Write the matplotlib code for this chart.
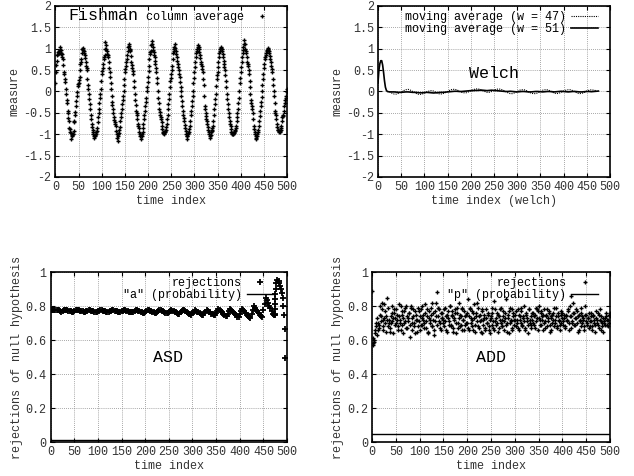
import numpy as np
import matplotlib
matplotlib.use("Agg")
import matplotlib.pyplot as plt
from matplotlib.ticker import MultipleLocator, FormatStrFormatter

plt.rcParams['font.family'] = ['Liberation Mono', 'DejaVu Sans Mono']
plt.rcParams['font.size'] = 8.5
plt.rcParams['axes.unicode_minus'] = False

# ---------------- data ----------------
# Fishman column average, even x = 0, 2, ..., 500 (values in hundredths)
fishman_even_pct = [
    20, 62, 85, 92, 90, 103, 90, 88, 75, 40, 30, 5, -20, -45, -62, -85, -95, -112, -105, -100, -70, -55, -35, -10, 18,
    20, 35, 65, 75, 100, 98, 90, 78, 60, 50, 15, -5, -30, -55, -75, -90, -100, -108, -102, -95, -85, -60, -40, -15, 5,
    40, 55, 75, 85, 115, 100, 88, 80, 55, 35, 5, -25, -40, -60, -72, -80, -100, -115, -100, -90, -70, -50, -30, -10, 15,
    45, 60, 75, 95, 112, 100, 95, 70, 55, 40, 10, -20, -45, -55, -75, -85, -100, -110, -105, -95, -75, -55, -35, -15, 10,
    35, 60, 88, 95, 118, 105, 92, 80, 65, 45, 20, -15, -40, -55, -65, -80, -95, -100, -95, -90, -75, -55, -30, -5, 25,
    40, 60, 90, 100, 110, 95, 80, 65, 50, 35, 10, -10, -35, -55, -70, -85, -100, -110, -100, -95, -80, -55, -35, -10, 20,
    45, 70, 90, 100, 108, 100, 85, 70, 60, 45, 15, -35, -50, -65, -75, -90, -100, -108, -95, -90, -80, -55, -30, -5, 30,
    45, 70, 90, 100, 105, 95, 80, 65, 50, 25, -5, -30, -50, -70, -80, -95, -100, -100, -95, -90, -80, -60, -40, -15, 20,
    45, 70, 90, 105, 120, 100, 90, 70, 60, 40, 10, -20, -35, -50, -80, -95, -105, -110, -100, -90, -70, -45, -25, 0, 30,
    55, 75, 85, 95, 102, 98, 90, 75, 60, 45, 15, -10, -45, -55, -75, -90, -92, -95, -90, -80, -60, -55, -35, -20, -10,
    5,
]
# Fishman column average, odd x = 1, 3, ..., 499
fishman_odd_pct = [
    45, 72, 88, 95, 98, 96, 88, 80, 62, 45, 22, -5, -28, -50, -70, -88, -97, -102, -100, -92, -72, -48, -22, -2, 12,
    28, 50, 70, 90, 101, 95, 85, 70, 55, 30, 5, -18, -42, -65, -82, -95, -104, -105, -100, -92, -72, -50, -28, -5, 25,
    48, 65, 80, 100, 108, 95, 85, 68, 45, 20, -10, -32, -50, -66, -76, -92, -108, -105, -98, -82, -60, -40, -20, 0, 30,
    52, 68, 85, 103, 106, 98, 82, 62, 48, 25, -5, -32, -50, -65, -80, -95, -105, -102, -100, -85, -65, -45, -25, 0, 22,
    48, 75, 92, 108, 112, 98, 86, 72, 55, 32, 2, -28, -48, -60, -72, -88, -98, -98, -92, -82, -65, -42, -18, 10, 32,
    50, 75, 95, 105, 102, 88, 72, 58, 42, 22, 0, -22, -45, -62, -78, -92, -105, -105, -98, -88, -68, -45, -22, 0, 32,
    58, 80, 95, 104, 104, 92, 78, 65, 52, 30, -10, -42, -58, -70, -82, -95, -104, -102, -92, -85, -68, -42, -18, 12, 38,
    58, 80, 95, 102, 100, 88, 72, 58, 38, 10, -18, -40, -60, -75, -88, -98, -100, -98, -92, -85, -70, -50, -28, 0, 32,
    58, 80, 98, 112, 110, 95, 80, 65, 50, 25, -5, -28, -42, -65, -88, -100, -108, -105, -95, -80, -58, -35, -12, 15, 42,
    65, 80, 90, 98, 100, 94, 82, 68, 52, 30, 2, -28, -50, -65, -82, -91, -94, -92, -85, -70, -58, -45, -28, -15, -2,
]
fishman_x = np.concatenate([np.arange(0, 501, 2), np.arange(1, 500, 2)])
fishman_y = np.concatenate([fishman_even_pct, fishman_odd_pct]) / 100.0

# Welch moving averages
welch51_head_x = [0, 2, 4, 6, 8, 10, 12, 14, 16, 18, 20]
welch51_head_y = [0.20, 0.50, 0.65, 0.72, 0.72, 0.62, 0.45, 0.25, 0.10, 0.03, 0.0]
welch51_tail_y = [
    -0.01, -0.01, -0.01, -0.015, -0.02, -0.02, -0.015, -0.01, -0.01, -0.015,
    -0.02, -0.02, -0.025, -0.03, -0.03, -0.025, -0.02, -0.025, -0.03, -0.035,
    -0.03, -0.025, -0.02, -0.02, -0.015, -0.01, -0.005, 0.0, 0.005, 0.005,
    0.0, 0.0, 0.005, 0.01, 0.015, 0.02, 0.02, 0.025, 0.025, 0.03,
    0.03, 0.025, 0.02, 0.025, 0.03, 0.025, 0.02, 0.015, 0.01, 0.005,
    0.0, 0.0, 0.005, 0.0, -0.005, -0.01, -0.005, 0.0, 0.0, -0.005,
    -0.01, -0.01, -0.005, 0.0, 0.0, -0.005, -0.01, -0.005, 0.0, 0.0,
    -0.005, -0.01, -0.005, 0.0, 0.005, 0.0, -0.005, -0.01, -0.005, 0.0,
    0.0, -0.005, -0.01, -0.01, -0.005, 0.0, 0.0, -0.005, 0.0, 0.005,
    0.01,
]
welch51_x = np.concatenate([welch51_head_x, np.arange(25, 476, 5)])
welch51_y = np.concatenate([welch51_head_y, welch51_tail_y])

welch47_y = [
    0.0, -0.04, -0.06, -0.06, -0.04, -0.01, 0.02, 0.04, 0.05, 0.03,
    0.0, -0.03, -0.06, -0.07, -0.06, -0.04, -0.01, 0.01, 0.02, 0.01,
    -0.02, -0.05, -0.06, -0.05, -0.03, 0.0, 0.03, 0.05, 0.05, 0.04,
    0.01, -0.02, -0.03, -0.03, -0.01, 0.02, 0.04, 0.06, 0.06, 0.05,
    0.02, 0.0, -0.02, -0.02, 0.0, 0.03, 0.05, 0.06, 0.05, 0.03,
    0.0, -0.03, -0.05, -0.05, -0.03, 0.0, 0.03, 0.04, 0.04, 0.02,
    -0.01, -0.04, -0.05, -0.05, -0.03, 0.0, 0.03, 0.04, 0.04, 0.02,
    -0.01, -0.04, -0.05, -0.04, -0.02, 0.01, 0.03, 0.04, 0.04, 0.02,
    -0.01, -0.04, -0.05, -0.04, -0.02, 0.01, 0.03, 0.04, 0.03, 0.02,
]
welch47_x = np.arange(25, 471, 5)

# ASD rejections (thousandths), x = 0, 2.5, ..., 475
asd_milli = [
    775, 777, 779, 778, 777, 776, 775, 774, 773,
    766, 770, 774, 778, 776, 774, 772, 770, 768, 767,
    766, 770, 774, 778, 776, 774, 772, 770, 768, 766,
    765, 769, 773, 777, 775, 773, 771, 769, 767, 765,
    764, 768, 773, 777, 775, 773, 771, 769, 767, 765,
    764, 768, 773, 777, 775, 773, 771, 768, 766, 764,
    763, 768, 772, 777, 775, 772, 770, 767, 765, 763,
    762, 767, 773, 778, 775, 772, 769, 766, 763, 761,
    760, 766, 772, 778, 775, 772, 769, 766, 763, 761,
    760, 766, 772, 778, 775, 771, 768, 764, 761, 758,
    757, 763, 770, 776, 773, 770, 766, 762, 759, 756,
    755, 763, 770, 778, 774, 769, 765, 760, 756, 752,
    750, 758, 767, 775, 771, 767, 763, 758, 754, 750,
    748, 758, 767, 777, 772, 767, 762, 756, 751, 747,
    745, 757, 768, 780, 774, 768, 762, 755, 749, 744,
    742, 755, 769, 782, 774, 767, 760, 752, 745, 738,
    735, 752, 768, 785, 777, 768, 759, 750, 741, 734,
    732, 755, 777, 800, 789, 779, 768, 758, 748, 740,
    738, 775, 812, 850, 834, 818, 802, 786, 770, 756,
    750, 752,
]
asd_x_main = np.arange(0, 476, 2.5)
asd_tail_x = [474, 474, 474.5, 475, 475.5, 476, 477, 479, 482, 484, 486, 488, 490, 491.5, 492.5, 493.5, 495, 496]
asd_tail_y = [0.75, 0.78, 0.81, 0.84, 0.87, 0.90, 0.935, 0.955, 0.945, 0.935, 0.92, 0.90, 0.875, 0.85, 0.80, 0.745, 0.667, 0.495]
asd_x = np.concatenate([asd_x_main, asd_tail_x])
asd_y = np.concatenate([np.array(asd_milli) / 1000.0, asd_tail_y])
asd_alpha = 0.01

# ADD rejections (hundredths), even x = 0..500 and odd x = 1..499
add_even_pct = [
    89, 58, 60, 66, 68, 63, 70, 67, 80, 74, 78, 72, 66, 81, 70, 74, 85, 68, 72, 65, 70, 76, 73, 78, 69,
    78, 72, 66, 74, 70, 80, 69, 75, 64, 77, 71, 80, 67, 73, 76, 62, 79, 70, 74, 68, 77, 72, 65, 79, 71,
    66, 78, 73, 69, 75, 70, 81, 67, 74, 64, 77, 72, 79, 68, 76, 63, 71, 82, 88, 74, 78, 70, 66, 73, 76,
    72, 68, 79, 74, 65, 77, 71, 80, 69, 75, 67, 73, 78, 64, 76, 70, 82, 68, 74, 79, 66, 72, 77, 69, 75,
    70, 84, 66, 78, 73, 68, 76, 81, 65, 74, 71, 79, 67, 75, 72, 64, 77, 69, 73, 66, 78, 70, 75, 68, 64,
    73, 79, 67, 83, 71, 69, 76, 65, 74, 78, 70, 72, 68, 77, 66, 73, 84, 70, 75, 64, 79, 71, 67, 76, 72,
    75, 68, 72, 78, 66, 74, 70, 77, 69, 73, 80, 67, 75, 71, 64, 78, 72, 69, 76, 70, 74, 67, 79, 73, 77,
    80, 72, 76, 69, 74, 66, 78, 71, 75, 68, 73, 77, 65, 74, 70, 76, 68, 72, 79, 67, 74, 71, 66, 75, 70,
    76, 69, 73, 67, 75, 71, 78, 66, 74, 86, 70, 82, 76, 69, 73, 77, 65, 75, 71, 79, 68, 74, 72, 66, 80,
    75, 69, 73, 67, 71, 76, 68, 74, 70, 65, 77, 72, 69, 75, 78, 66, 71, 68, 73, 70, 69, 74, 72, 68, 75,
    76,
]
add_odd_pct = [
    57, 61, 59, 64, 70, 73, 66, 69, 75, 71, 82, 68, 73, 77, 65, 72, 79, 70, 67, 74, 80, 71, 64, 76, 73,
    70, 75, 68, 81, 72, 66, 77, 73, 70, 79, 67, 74, 71, 76, 69, 80, 66, 73, 78, 70, 64, 75, 72, 68, 77,
    74, 69, 80, 72, 67, 76, 71, 78, 65, 73, 70, 75, 68, 82, 72, 66, 77, 74, 69, 79, 71, 67, 76, 73, 70,
    78, 71, 66, 75, 73, 69, 80, 68, 74, 77, 65, 72, 76, 70, 79, 67, 73, 75, 69, 78, 72, 66, 74, 70, 76,
    67, 74, 79, 70, 72, 77, 66, 73, 69, 76, 82, 68, 74, 71, 65, 78, 72, 75, 67, 73, 70, 76, 66, 72, 74,
    69, 76, 71, 66, 78, 73, 70, 75, 67, 72, 79, 68, 74, 71, 76, 69, 65, 73, 77, 70, 72, 66, 78, 74, 69,
    72, 77, 70, 67, 75, 72, 79, 68, 74, 71, 66, 76, 73, 69, 78, 70, 74, 67, 72, 76, 69, 75, 71, 78, 66,
    73, 69, 77, 72, 75, 70, 67, 74, 78, 71, 76, 69, 73, 66, 75, 72, 79, 70, 74, 68, 76, 72, 69, 77, 73,
    71, 75, 68, 74, 72, 77, 70, 80, 67, 74, 71, 76, 69, 73, 78, 70, 74, 66, 72, 76, 70, 73, 68, 75, 71,
    70, 73, 76, 68, 74, 71, 66, 75, 72, 69, 73, 70, 76, 67, 72, 74, 70, 65, 71, 73, 76, 69, 72, 70, 74,
]
add_x = np.concatenate([np.arange(0, 501, 2), np.arange(1, 500, 2)])
add_y = np.concatenate([add_even_pct, add_odd_pct]) / 100.0
add_p = 0.05

# ---------------- figure ----------------
fig = plt.figure(figsize=(6.34, 4.76), dpi=100)
ax1 = fig.add_axes([0.0875, 0.6282, 0.3652, 0.3592])
ax2 = fig.add_axes([0.5962, 0.6282, 0.3659, 0.3592])
ax3 = fig.add_axes([0.0800, 0.0714, 0.3727, 0.3571])
ax4 = fig.add_axes([0.5868, 0.0714, 0.3754, 0.3571])

def style(ax, ymin, ymax, ystep):
    ax.set_xlim(0, 500)
    ax.set_ylim(ymin, ymax)
    ax.xaxis.set_major_locator(MultipleLocator(50))
    ax.yaxis.set_major_locator(MultipleLocator(ystep))
    ax.yaxis.set_major_formatter(FormatStrFormatter('%g'))
    ax.xaxis.set_major_formatter(FormatStrFormatter('%g'))
    ax.grid(True, color='#8a8a8a', linestyle=(0, (1, 1.5)), linewidth=0.6)
    ax.tick_params(direction='in', top=True, right=True, length=3, width=0.8,
                   pad=3, labelsize=8.5, labelcolor='#333333')
    for s in ax.spines.values():
        s.set_linewidth(1.2)
    ax.set_axisbelow(True)

def right_align_legend(leg):
    for col in leg._legend_handle_box.get_children():
        col.align = 'right'

mk = dict(marker='+', linestyle='none', color='black', markersize=3.2, markeredgewidth=1.0)
leg_kw = dict(loc='upper right', frameon=False, markerfirst=False, handlelength=2.3,
              handletextpad=0.4, borderaxespad=0.3, borderpad=0.1, labelspacing=0.0)

# panel 1
style(ax1, -2, 2, 0.5)
ax1.plot(fishman_x, fishman_y, label='column average', **mk)
ax1.set_xlabel('time index', labelpad=1, color='#333333')
ax1.set_ylabel('measure', labelpad=2, color='#333333')
ax1.legend(loc='upper right', frameon=False, markerfirst=False, handlelength=1.5,
           handletextpad=0.8, borderaxespad=0.3, borderpad=0.1,
           bbox_to_anchor=(0.95, 1.0))
ax1.text(27, 1.78, 'Fishman', fontsize=12, va='center', ha='left')

# panel 2
style(ax2, -2, 2, 0.5)
ax2.plot(welch47_x, welch47_y, color='black', linestyle=(0, (1, 1)), linewidth=0.8,
         label='moving average (w = 47)')
ax2.plot(welch51_x, welch51_y, color='black', linestyle='-', linewidth=1.2,
         label='moving average (w = 51)')
ax2.set_xlabel('time index (welch)', labelpad=1, color='#333333')
ax2.set_ylabel('measure', labelpad=2, color='#333333')
leg = ax2.legend(bbox_to_anchor=(0.97, 1.0), **leg_kw)
right_align_legend(leg)
ax2.text(251, 0.43, 'Welch', fontsize=12, va='center', ha='center')

# panel 3
style(ax3, 0, 1, 0.2)
ax3.plot(asd_x, asd_y, label='rejections', color='black', marker='+', linestyle='none',
         markersize=4, markeredgewidth=1.3)
ax3.axhline(asd_alpha, color='black', linewidth=1.0, label='"a" (probability)')
ax3.set_xlabel('time index', labelpad=1, color='#333333')
ax3.set_ylabel('rejections of null hypothesis', labelpad=2, color='#333333')
leg = ax3.legend(bbox_to_anchor=(0.965, 1.0), **leg_kw)
right_align_legend(leg)
ax3.text(249, 0.50, 'ASD', fontsize=12, va='center', ha='center')

# panel 4
style(ax4, 0, 1, 0.2)
ax4.plot(add_x, add_y, label='rejections', **mk)
ax4.axhline(add_p, color='black', linewidth=1.0, label='"p" (probability)')
ax4.set_xlabel('time index', labelpad=1, color='#333333')
ax4.set_ylabel('rejections of null hypothesis', labelpad=2, color='#333333')
leg = ax4.legend(bbox_to_anchor=(0.97, 1.0), **leg_kw)
right_align_legend(leg)
ax4.text(250, 0.50, 'ADD', fontsize=12, va='center', ha='center')

fig.savefig('out.png', dpi=100)
